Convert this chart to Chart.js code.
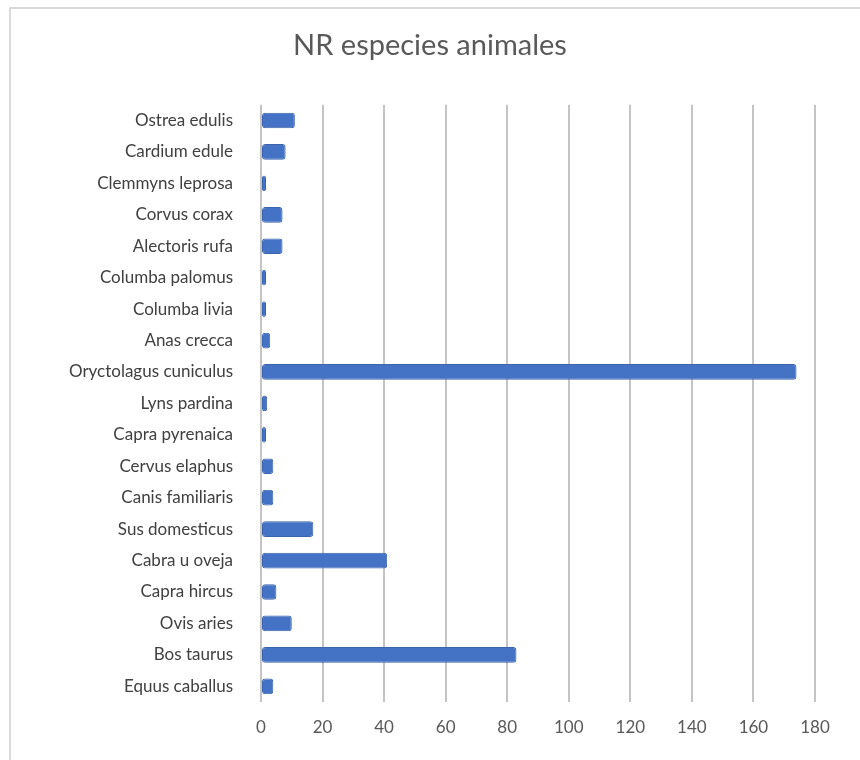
<!DOCTYPE html>
<html>
<head>
<meta charset="utf-8">
<script src="https://cdn.jsdelivr.net/npm/chart.js@4/dist/chart.umd.min.js"></script>
<style>
  html, body { margin: 0; padding: 0; background: #fff; }
  #wrap { position: relative; width: 860px; height: 760px; overflow: hidden; }
  #frame { position: absolute; left: 9px; top: 7px; width: 900px; height: 800px; border: 2px solid #d9d9d9; box-sizing: border-box; }
  canvas { position: absolute; left: 0; top: 0; }
</style>
</head>
<body>
<div id="wrap">
  <div id="frame"></div>
  <canvas id="nr_chart" width="860" height="760"></canvas>
</div>
<script>
// especies, de arriba a abajo
var especies = [
    "Ostrea edulis",
    "Cardium edule",
    "Clemmyns leprosa",
    "Corvus corax",
    "Alectoris rufa",
    "Columba palomus",
    "Columba livia",
    "Anas crecca",
    "Oryctolagus cuniculus",
    "Lyns pardina",
    "Capra pyrenaica",
    "Cervus elaphus",
    "Canis familiaris",
    "Sus domesticus",
    "Cabra u oveja",
    "Capra hircus",
    "Ovis aries",
    "Bos taurus",
    "Equus caballus"
];

var nr = [11, 8, 1, 7, 7, 1, 1, 3, 174, 2, 1, 4, 4, 17, 41, 5, 10, 83, 4];

var xTicks = [0, 20, 40, 60, 80, 100, 120, 140, 160, 180];

/////////////////////////////////////////////////////////

var ctx = document.getElementById("nr_chart");

var dataNR = {
    label: "NR",
    data: nr,
    backgroundColor: '#4472C4',
    borderColor: '#3b64ad',
    borderWidth: 1,
    borderRadius: 3,
    borderSkipped: false,
    minBarLength: 5,
    barPercentage: 0.5,
    categoryPercentage: 1
};

var chartOptions = {
    responsive: false,
    animation: false,
    indexAxis: 'y',
    layout: { padding: { left: 45, right: 45, top: 0, bottom: 0 } },
    plugins: {
        legend: { display: false },
        tooltip: { enabled: false },
        title: {
            display: true,
            text: 'NR especies animales',
            color: '#595959',
            font: { family: 'Lato', size: 29, weight: 'normal' },
            padding: { top: 28, bottom: 42 }
        }
    },
    scales: {
        x: {
            min: 0,
            max: 180,
            afterBuildTicks: function(scale) {
                scale.ticks = xTicks.map(function(v) { return { value: v }; });
            },
            afterFit: function(scale) { scale.height = 58; },
            grid: { color: '#c4c4c4', lineWidth: 2, drawTicks: false },
            border: { display: false },
            ticks: {
                color: '#595959',
                padding: 15,
                font: { family: 'Lato', size: 17 }
            }
        },
        y: {
            afterFit: function(scale) { scale.width = 216; },
            grid: { display: false, drawTicks: false },
            border: { display: false },
            ticks: {
                color: '#404040',
                padding: 28,
                font: { family: 'Lato', size: 17 }
            }
        }
    }
};

var barChart = new Chart(ctx, {
    type: 'bar',
    data: { labels: especies, datasets: [dataNR] },
    options: chartOptions
});
</script>
</body>
</html>
